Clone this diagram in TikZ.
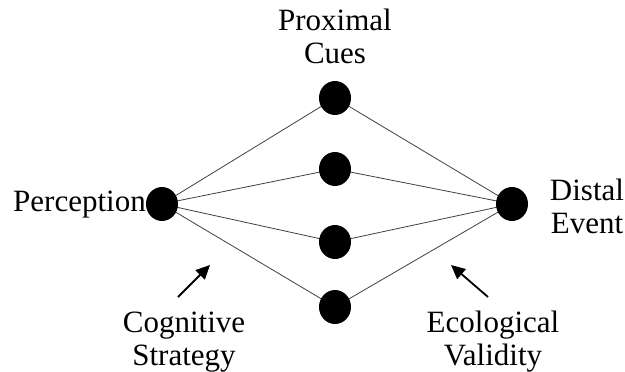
\documentclass[tikz,border=0pt]{standalone}
\usepackage{fontspec}
\setmainfont{Liberation Serif}
\usetikzlibrary{arrows.meta,backgrounds,shapes.geometric}
\begin{document}
\begin{tikzpicture}[x=1pt,y=-1pt,
  dot/.style={ellipse,fill=black,minimum width=32pt,minimum height=34pt,inner sep=0pt},
  lbl/.style={font=\fontsize{31}{33}\selectfont,align=center,inner sep=0pt},
  link/.style={draw=black!75,line width=0.8pt},
  pointer/.style={draw=black,line width=1.8pt,-{Triangle[length=14pt,width=13pt]}}]
\useasboundingbox (0,0) rectangle (625,372);
\node[dot] (P) at (162,204) {};
\node[dot] (c1) at (335,98) {};
\node[dot] (c2) at (335,169) {};
\node[dot] (c3) at (335,242) {};
\node[dot] (c4) at (335,307) {};
\node[dot] (D) at (512,204) {};
\begin{pgfonlayer}{background}
\foreach \c in {c1,c2,c3,c4}{
  \draw[link] (P.center) -- (\c.center);
  \draw[link] (\c.center) -- (D.center);
}
\end{pgfonlayer}
\node[lbl,anchor=east] (tP) at (146,205) {Perception};
\node[lbl] (tC) at (335,36) {Proximal\\Cues};
\node[lbl] (tD) at (587,206) {Distal\\Event};
\node[lbl] (tS) at (184,342) {Cognitive\\Strategy};
\node[lbl] (tV) at (493,342) {Ecological\\Validity};
\coordinate (a1s) at (178,297);
\coordinate (a1e) at (210,265);
\coordinate (a2s) at (488,297);
\coordinate (a2e) at (451,265);
\draw[pointer] (a1s) -- (a1e);
\draw[pointer] (a2s) -- (a2e);
\end{tikzpicture}
\end{document}
